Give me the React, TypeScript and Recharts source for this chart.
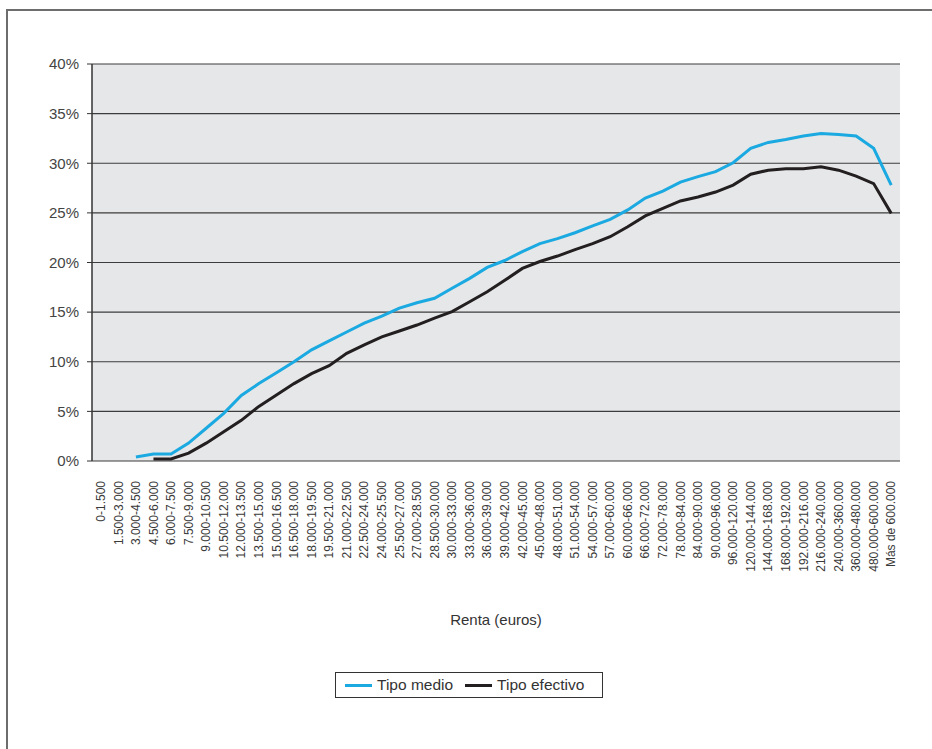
import {
  CartesianGrid,
  ComposedChart,
  Legend,
  Line,
  XAxis,
  YAxis,
} from "recharts";

const categories = [
  "0-1.500", "1.500-3.000", "3.000-4.500", "4.500-6.000", "6.000-7.500",
  "7.500-9.000", "9.000-10.500", "10.500-12.000", "12.000-13.500", "13.500-15.000",
  "15.000-16.500", "16.500-18.000", "18.000-19.500", "19.500-21.000", "21.000-22.500",
  "22.500-24.000", "24.000-25.500", "25.500-27.000", "27.000-28.500", "28.500-30.000",
  "30.000-33.000", "33.000-36.000", "36.000-39.000", "39.000-42.000", "42.000-45.000",
  "45.000-48.000", "48.000-51.000", "51.000-54.000", "54.000-57.000", "57.000-60.000",
  "60.000-66.000", "66.000-72.000", "72.000-78.000", "78.000-84.000", "84.000-90.000",
  "90.000-96.000", "96.000-120.000", "120.000-144.000", "144.000-168.000", "168.000-192.000",
  "192.000-216.000", "216.000-240.000", "240.000-360.000", "360.000-480.000", "480.000-600.000",
  "Más de 600.000",
];

// % values
const tipoMedio = [
  null, null, 0.4, 0.7, 0.7, 1.8, 3.3, 4.8, 6.6, 7.8,
  8.9, 10.0, 11.2, 12.1, 13.0, 13.9, 14.6, 15.4, 15.95, 16.4,
  17.4, 18.4, 19.5, 20.2, 21.1, 21.9, 22.4, 23.0, 23.7, 24.35,
  25.3, 26.5, 27.2, 28.1, 28.65, 29.15, 30.05, 31.5, 32.1, 32.4,
  32.75, 33.0, 32.9, 32.75, 31.5, 27.8,
];

const tipoEfectivo = [
  null, null, null, 0.2, 0.2, 0.8, 1.8, 2.95, 4.1, 5.5,
  6.65, 7.8, 8.8, 9.6, 10.85, 11.7, 12.5, 13.1, 13.7, 14.4,
  15.05, 16.05, 17.05, 18.2, 19.4, 20.1, 20.65, 21.3, 21.9, 22.6,
  23.6, 24.7, 25.45, 26.2, 26.6, 27.1, 27.8, 28.9, 29.3, 29.45,
  29.45, 29.65, 29.3, 28.7, 27.95, 24.95,
];

const yTicks = [0, 5, 10, 15, 20, 25, 30, 35, 40];
const edgeTicks = Array.from({ length: categories.length + 1 }, (_, i) => i);
const legendOrder = ["medio", "efectivo"];

const data = categories.map((name, i) => ({
  name,
  medio: tipoMedio[i],
  efectivo: tipoEfectivo[i],
}));

const FONT = "'Liberation Sans', Arial, sans-serif";

function CategoryTick({ x, y, payload }: any) {
  return (
    <text
      x={x}
      y={y}
      transform={`rotate(-90, ${x}, ${y})`}
      textAnchor="end"
      dy="0.35em"
      fontSize={12}
      fill="#3a3a3a"
      fontFamily={FONT}
    >
      {payload.value}
    </text>
  );
}

function LegendBox({ payload }: any) {
  const items = [...(payload || [])].sort(
    (a: any, b: any) => legendOrder.indexOf(a.dataKey) - legendOrder.indexOf(b.dataKey)
  );
  return (
    <div
      style={{
        border: "1px solid #333",
        width: 268,
        height: 26,
        display: "flex",
        alignItems: "center",
        paddingLeft: 9,
        boxSizing: "border-box",
        background: "#fff",
        fontFamily: FONT,
        fontSize: 15.5,
        color: "#333",
      }}
    >
      {items.map((p: any, i: number) => (
        <span
          key={i}
          style={{ display: "flex", alignItems: "center", marginRight: i === 0 ? 12 : 0 }}
        >
          <span
            style={{
              display: "inline-block",
              width: 27,
              height: 3,
              background: p.color,
              marginRight: 5,
            }}
          />
          {p.value}
        </span>
      ))}
    </div>
  );
}

export default function App() {
  return (
    <div
      style={{
        position: "absolute",
        left: 0,
        top: 0,
        width: 932,
        height: 749,
        overflow: "hidden",
        background: "#fff",
        fontFamily: FONT,
      }}
    >
      <div
        style={{
          position: "absolute",
          left: 6,
          top: 9,
          width: 1000,
          height: 1000,
          border: "2px solid #6d6d6d",
        }}
      />
      <div style={{ position: "absolute", left: 0, top: 0 }}>
        <ComposedChart
          width={932}
          height={749}
          data={data}
          margin={{ top: 64, right: 32, left: 22, bottom: 118 }}
        >
          <CartesianGrid
            vertical={false}
            fill="#e6e7e8"
            stroke="#3c3c3c"
            strokeWidth={1.2}
            yAxisId="left"
            xAxisId="cat"
          />
          <XAxis
            xAxisId="edges"
            type="number"
            domain={[0, categories.length]}
            ticks={edgeTicks}
            allowDataOverflow
            height={0}
            tick={false}
            tickSize={5}
            tickLine={{ stroke: "#333", strokeWidth: 1.2 }}
            axisLine={{ stroke: "#2a2a2a", strokeWidth: 2 }}
          />
          <XAxis
            xAxisId="cat"
            dataKey="name"
            scale="band"
            interval={0}
            height={170}
            tickLine={false}
            axisLine={false}
            tickMargin={14}
            tick={<CategoryTick />}
            label={{
              value: "Renta (euros)",
              position: "insideBottom",
              offset: 6,
              fontSize: 15,
              fill: "#333",
              fontFamily: FONT,
            }}
          />
          <YAxis
            yAxisId="left"
            domain={[0, 40]}
            ticks={yTicks}
            width={70}
            tickFormatter={(v) => `${v}%`}
            tick={{ fill: "#444", fontSize: 15, fontFamily: FONT }}
            tickSize={5}
            tickMargin={8}
            tickLine={{ stroke: "#333" }}
            axisLine={{ stroke: "#333", strokeWidth: 1.5 }}
          />
          <YAxis
            yAxisId="right"
            orientation="right"
            domain={[0, 40]}
            width={0}
            tick={false}
            tickLine={false}
            axisLine={{ stroke: "#777", strokeWidth: 2 }}
          />
          <Line
            xAxisId="cat"
            yAxisId="left"
            type="linear"
            dataKey="medio"
            name="Tipo medio"
            stroke="#1ba9e1"
            strokeWidth={3}
            dot={false}
            activeDot={false}
            isAnimationActive={false}
          />
          <Line
            xAxisId="cat"
            yAxisId="left"
            type="linear"
            dataKey="efectivo"
            name="Tipo efectivo"
            stroke="#231f20"
            strokeWidth={3}
            dot={false}
            activeDot={false}
            isAnimationActive={false}
          />
          <Legend
            layout="horizontal"
            verticalAlign="middle"
            align="center"
            content={<LegendBox />}
            wrapperStyle={{ left: 335, top: 672, width: 270, height: 28 }}
          />
        </ComposedChart>
      </div>
    </div>
  );
}
